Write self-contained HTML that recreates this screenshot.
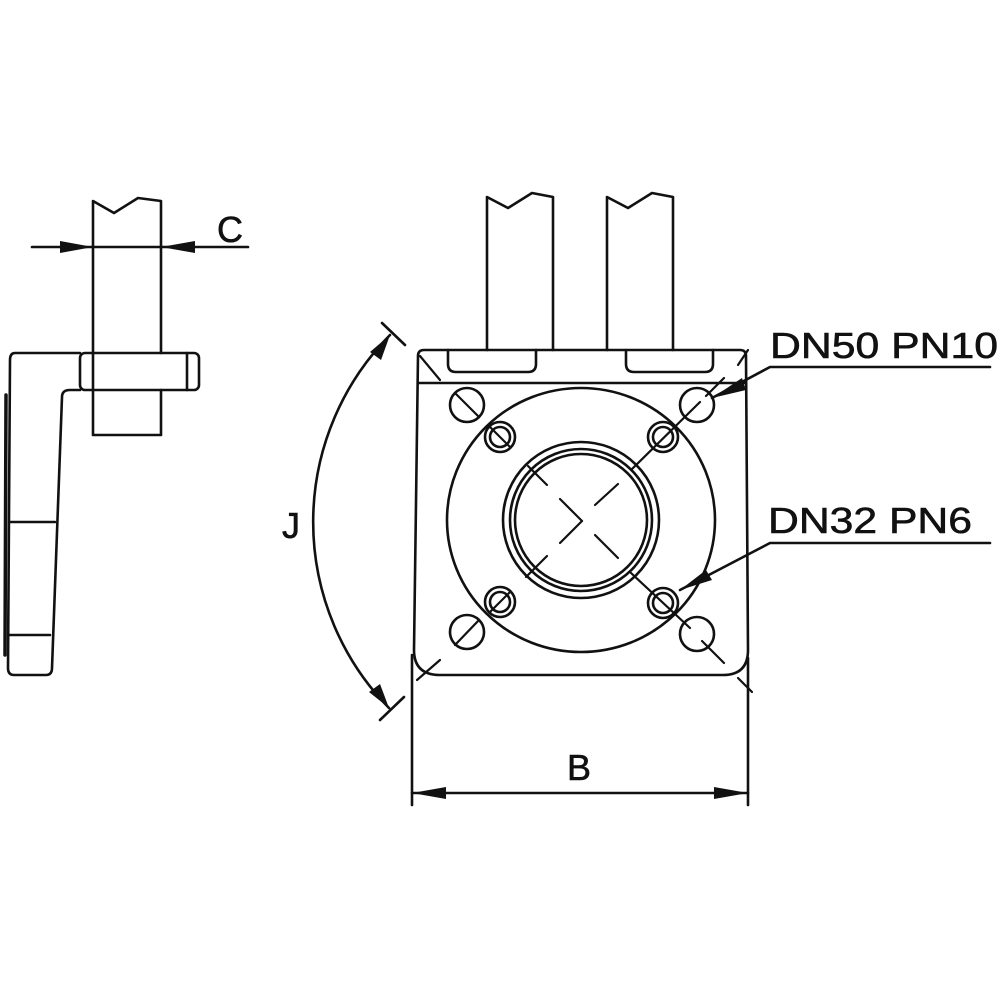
<!DOCTYPE html>
<html><head><meta charset="utf-8"><style>html,body{margin:0;padding:0;background:#fff}svg{display:block}</style></head>
<body>
<svg width="1000" height="1000" viewBox="0 0 1000 1000" xmlns="http://www.w3.org/2000/svg">
<g fill="none" stroke="#111" stroke-width="2.6" stroke-linejoin="round" stroke-linecap="round">
<!-- left view -->
<path d="M93,435 V201 L114,213 L138,198 L161,201 V353 M161,390 V435 H93"/>
<path d="M80,353 H15 Q10,353 10,360 L8,668 Q8,675 14,675 H46 Q52,675 52,668 L62,397 Q62,390 70,390 H80"/>
<rect x="80" y="353" width="119" height="37" rx="5"/>
<line x1="187" y1="353" x2="187" y2="390"/>
<line x1="10" y1="522" x2="55" y2="522"/>
<line x1="10" y1="635" x2="50" y2="635"/>
<line x1="6" y1="395" x2="5" y2="655" stroke-width="3.5"/>
<line x1="32" y1="247" x2="248" y2="247"/>
<!-- main pipes -->
<path d="M487,350 V197 L508,208 L532,193 L553,197 V350"/>
<path d="M607,350 V197 L628,208 L652,193 L673,197 V350"/>
<!-- plate -->
<path d="M424,350 H740 Q746,350 746,356 L748,650 Q748,675 723,675 H440 Q414,675 414,650 L418,356 Q418,350 424,350 Z"/>
<line x1="418" y1="383" x2="746" y2="383"/>
<path d="M448,350 V364 Q448,372 456,372 H528 Q536,372 536,364 V350"/>
<path d="M626,350 V364 Q626,372 634,372 H705 Q713,372 713,364 V350"/>
<ellipse cx="581" cy="520" rx="134" ry="132"/>
<circle cx="581" cy="520" r="78"/>
<circle cx="581" cy="520" r="71"/>
<circle cx="581" cy="520" r="66"/>
<circle cx="500" cy="437" r="15"/><circle cx="500" cy="437" r="10"/>
<circle cx="663" cy="437" r="15"/><circle cx="663" cy="437" r="10"/>
<circle cx="500" cy="602" r="15"/><circle cx="500" cy="602" r="10"/>
<circle cx="663" cy="603" r="15"/><circle cx="663" cy="603" r="10"/>
<circle cx="467" cy="405" r="17"/><circle cx="697" cy="405" r="17"/>
<circle cx="467" cy="632" r="17"/><circle cx="697" cy="634" r="17"/>
<!-- centerlines -->
<g stroke-width="2.2">
<line x1="420" y1="356" x2="440" y2="380"/>
<line x1="455" y1="393" x2="479" y2="417"/>
<line x1="490" y1="427" x2="510" y2="447"/>
<line x1="528" y1="466" x2="547" y2="485"/>
<line x1="560" y1="499" x2="582" y2="521"/><line x1="582" y1="521" x2="560" y2="543"/>
<line x1="595" y1="505" x2="618" y2="484"/>
<line x1="595" y1="535" x2="618" y2="558"/>
<line x1="526" y1="577" x2="547" y2="556"/>
<line x1="631" y1="470" x2="700" y2="402"/>
<line x1="706" y1="396" x2="724" y2="378"/>
<line x1="738" y1="365" x2="748" y2="350"/>
<line x1="455" y1="645" x2="479" y2="620"/>
<line x1="490" y1="612" x2="510" y2="592"/>
<line x1="417" y1="680" x2="440" y2="660"/>
<line x1="631" y1="573" x2="690" y2="628"/>
<line x1="702" y1="641" x2="724" y2="663"/>
<line x1="738" y1="678" x2="752" y2="692"/>
</g>
<!-- B dim -->
<line x1="412" y1="655" x2="412" y2="805"/>
<line x1="748" y1="658" x2="748" y2="805"/>
<line x1="412" y1="793" x2="748" y2="793"/>
<!-- J arc -->
<path d="M390,335 A266,266 0 0 0 389,708"/>
<line x1="382" y1="323" x2="405" y2="345"/>
<line x1="380" y1="720" x2="404" y2="697"/>
<!-- leaders -->
<polyline points="990,367 770,367 712,398"/>
<polyline points="990,543 770,543 680,590"/>
</g>
<g fill="#111">
<polygon points="93,247 60,241 60,253"/>
<polygon points="161,247 195,241 195,253"/>
<polygon points="412,793 446,787 446,799"/>
<polygon points="748,793 714,787 714,799"/>
<polygon points="390,335 370,352 381,360"/>
<polygon points="389,708 369,692 380,684"/>
<polygon points="712,398 742,378 746,390"/>
<polygon points="680,590 706,570 712,580"/>
</g>
<g font-family="Liberation Sans, sans-serif" font-size="36" fill="#111" stroke="#111" stroke-width="0.6">
<text x="217" y="242">C</text>
<text x="282" y="538">J</text>
<text x="567" y="780">B</text>
<text x="770" y="358" textLength="228" lengthAdjust="spacingAndGlyphs">DN50 PN10</text>
<text x="768" y="533" textLength="204" lengthAdjust="spacingAndGlyphs">DN32 PN6</text>
</g>
</svg>
</body></html>
